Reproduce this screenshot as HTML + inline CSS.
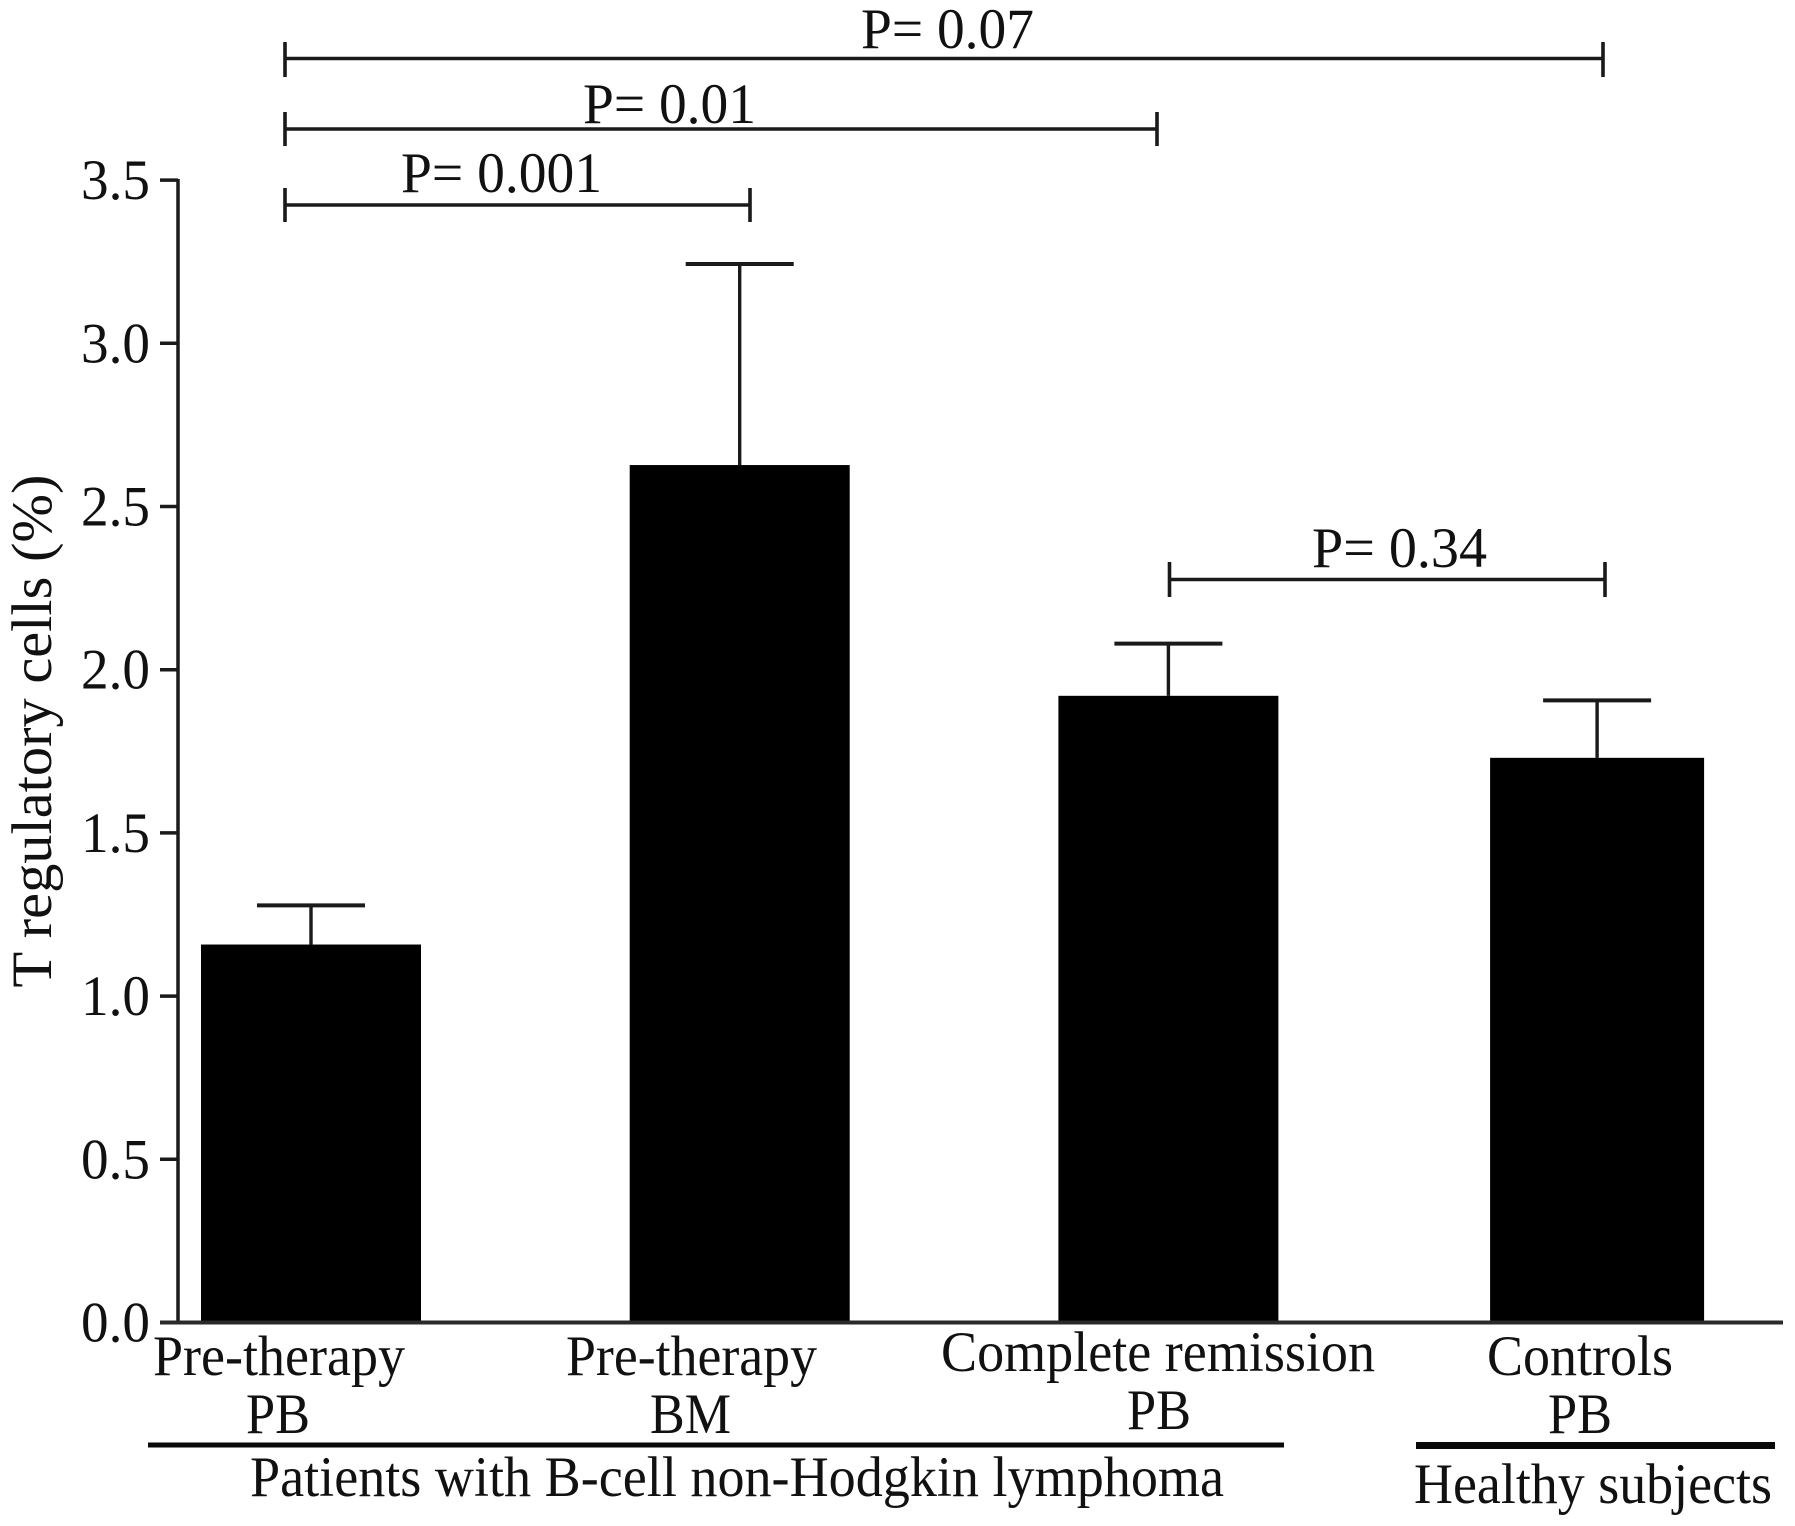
<!DOCTYPE html>
<html lang="en">
<head>
<meta charset="utf-8">
<title>T regulatory cells bar chart</title>
<style>
html,body{margin:0;padding:0;background:#fff;width:1795px;height:1526px;overflow:hidden}
svg{display:block}
text{font-family:"Liberation Serif",serif;font-size:57px;fill:#111}
.br{stroke:#1a1a1a;stroke-width:3.6;fill:none}
</style>
</head>
<body>
<svg id="chart" xmlns="http://www.w3.org/2000/svg" width="1795" height="1526" viewBox="0 0 1795 1526">
  <rect x="0" y="0" width="1795" height="1526" fill="#fff"/>
  <g id="bars"></g>
  <g id="y-axis">
    <line x1="178" y1="179" x2="178" y2="1323" stroke="#1a1a1a" stroke-width="3.5"/>
  </g>
  <line x1="160" y1="1322.5" x2="1783" y2="1322.5" stroke="#2a2a2a" stroke-width="4"/>
  <text transform="translate(51,731) rotate(-90)" text-anchor="middle" textLength="513" lengthAdjust="spacingAndGlyphs">T regulatory cells (%)</text>

  <g>
    <path class="br" d="M285 42V77M285 58.5H1603M1603 42V77"/>
    <text x="861" y="48" textLength="173" lengthAdjust="spacingAndGlyphs">P= 0.07</text>
  </g>
  <g>
    <path class="br" d="M285 112V146M285 129H1157M1157 112V146"/>
    <text x="583" y="123" textLength="173" lengthAdjust="spacingAndGlyphs">P= 0.01</text>
  </g>
  <g>
    <path class="br" d="M285 188V222M285 205H750M750 188V222"/>
    <text x="401" y="192" textLength="201" lengthAdjust="spacingAndGlyphs">P= 0.001</text>
  </g>
  <g>
    <path class="br" d="M1169.5 562V597M1169.5 579.5H1605M1605 562V597"/>
    <text x="1312" y="567" textLength="175" lengthAdjust="spacingAndGlyphs">P= 0.34</text>
  </g>

  <g>
    <text x="153" y="1375" textLength="252" lengthAdjust="spacingAndGlyphs">Pre-therapy</text>
    <text x="246" y="1433" textLength="64" lengthAdjust="spacingAndGlyphs">PB</text>
    <text x="566" y="1375" textLength="251" lengthAdjust="spacingAndGlyphs">Pre-therapy</text>
    <text x="650" y="1433" textLength="81" lengthAdjust="spacingAndGlyphs">BM</text>
    <text x="941" y="1371" textLength="434" lengthAdjust="spacingAndGlyphs">Complete remission</text>
    <text x="1127" y="1429" textLength="64" lengthAdjust="spacingAndGlyphs">PB</text>
    <text x="1487" y="1375" textLength="186" lengthAdjust="spacingAndGlyphs">Controls</text>
    <text x="1548" y="1433" textLength="64" lengthAdjust="spacingAndGlyphs">PB</text>
  </g>

  <rect x="148" y="1442.5" width="1136" height="5" fill="#0a0a0a"/>
  <rect x="1416" y="1442" width="359" height="7" fill="#0a0a0a"/>
  <text x="250" y="1496" textLength="974" lengthAdjust="spacingAndGlyphs">Patients with B-cell non-Hodgkin lymphoma</text>
  <text x="1414" y="1503" textLength="358" lengthAdjust="spacingAndGlyphs">Healthy subjects</text>
</svg>
<script>
const categories = ["Pre-therapy PB", "Pre-therapy BM", "Complete remission PB", "Controls PB"];
const means = [1.158, 2.627, 1.92, 1.73];
const errorTops = [1.278, 3.243, 2.08, 1.906];
const yTicks = [0, 0.5, 1, 1.5, 2, 2.5, 3, 3.5];
const yTickLabels = ["0.0", "0.5", "1.0", "1.5", "2.0", "2.5", "3.0", "3.5"];

const NS = "http://www.w3.org/2000/svg";
function yScale(v) { return 1322.5 - v * 326.4; }
function xScale(i) { return 311 + i * 428.7; }
function barWidth(i) { return i === categories.length - 1 ? 214 : 220; }
function make(tag, parent) {
  const el = document.createElementNS(NS, tag);
  parent.appendChild(el);
  return el;
}

const barsGroup = document.getElementById("bars");
categories.forEach(function (cat, i) {
  const cx = xScale(i);
  const w = barWidth(i);
  const top = yScale(means[i]);
  const errTop = yScale(errorTops[i]);
  const slug = cat.toLowerCase().replace(/\s+/g, "-");

  const stem = make("line", barsGroup);
  
  
  stem.setAttribute("x1", cx);
  stem.setAttribute("x2", cx);
  stem.setAttribute("y1", errTop);
  stem.setAttribute("y2", top);
  stem.setAttribute("stroke", "#1a1a1a");
  stem.setAttribute("stroke-width", "3.4");

  const cap = make("line", barsGroup);
  
  
  cap.setAttribute("x1", cx - 54);
  cap.setAttribute("x2", cx + 54);
  cap.setAttribute("y1", errTop);
  cap.setAttribute("y2", errTop);
  cap.setAttribute("stroke", "#1a1a1a");
  cap.setAttribute("stroke-width", "4");

  const bar = make("rect", barsGroup);
  
  
  bar.setAttribute("x", cx - w / 2);
  bar.setAttribute("y", top);
  bar.setAttribute("width", w);
  bar.setAttribute("height", yScale(0) - top);
  bar.setAttribute("fill", "#000");
});

const yAxis = document.getElementById("y-axis");
yTicks.forEach(function (t, i) {
  const y = yScale(t);
  const tick = make("line", yAxis);
  
  
  tick.setAttribute("x1", 160);
  tick.setAttribute("x2", 178);
  tick.setAttribute("y1", y);
  tick.setAttribute("y2", y);
  tick.setAttribute("stroke", "#1a1a1a");
  tick.setAttribute("stroke-width", "3.5");

  const label = make("text", yAxis);
  
  
  label.setAttribute("x", 81);
  label.setAttribute("y", y + 19);
  label.setAttribute("textLength", 69);
  label.setAttribute("lengthAdjust", "spacingAndGlyphs");
  label.textContent = yTickLabels[i];
});
</script>
</body>
</html>
